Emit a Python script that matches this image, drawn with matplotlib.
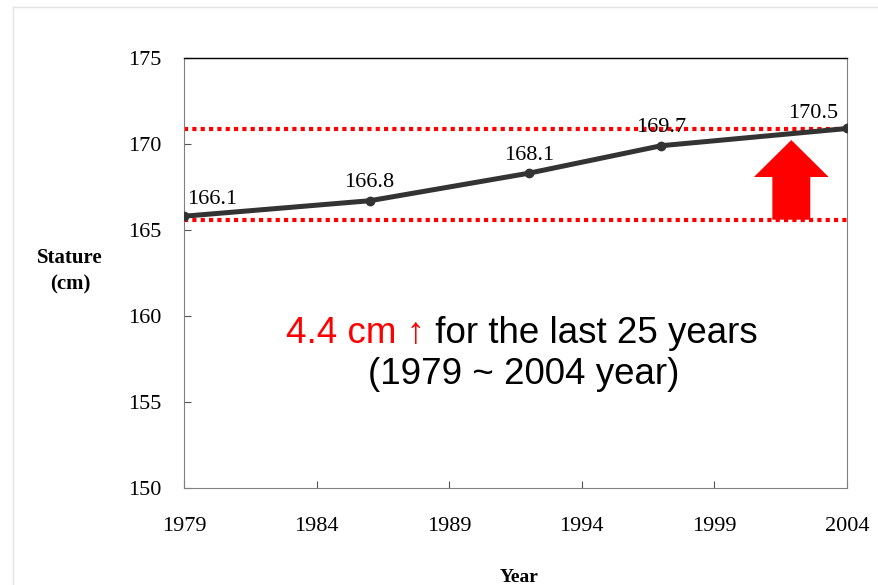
import numpy as np
import matplotlib.pyplot as plt
from matplotlib.patches import FancyArrow
from matplotlib.lines import Line2D

years = [1979, 1986, 1992, 1997, 2004]
stature = [165.8, 166.7, 168.3, 169.9, 170.9]
labels = ["166.1", "166.8", "168.1", "169.7", "170.5"]
xticks = [1979, 1984, 1989, 1994, 1999, 2004]
yticks = [150, 155, 160, 165, 170, 175]
ref_low = 165.6
ref_high = 170.85

serif = "Liberation Serif"
sans = ["Liberation Sans", "DejaVu Sans"]

fig = plt.figure(figsize=(8.79, 5.85), dpi=100)
ax = fig.add_axes([0.2093, 0.1658, 0.7543, 0.7351])

# faint slide border
fig.add_artist(Line2D([13/879, 13/879], [0, 1 - 7/585], color="#e4e4e4", lw=1))
fig.add_artist(Line2D([13/879, 1], [1 - 7/585, 1 - 7/585], color="#e4e4e4", lw=1))

ax.axhline(ref_high, color="red", lw=3, ls=(0, (1, 1)), zorder=1)
ax.axhline(ref_low, color="red", lw=3, ls=(0, (1, 1)), zorder=1)

ax.add_patch(FancyArrow(2001.9, ref_low, 0, 4.63, width=1.43, head_width=2.82,
                        head_length=2.15, length_includes_head=True,
                        color="red", lw=0, zorder=2))

ax.plot(years, stature, color="#333333", lw=3.6, marker="o", ms=6,
        solid_capstyle="round", zorder=3)

offsets = [(2, 5), (0, 6), (0, 6), (0, 6), (-24, 4)]
has = ["left", "center", "center", "center", "center"]
for x, y, s, off, ha in zip(years, stature, labels, offsets, has):
    ax.annotate(s, (x, y), xytext=off, textcoords="offset points", ha=ha,
                va="bottom", fontsize=16, family=serif, zorder=4)

ax.set_xlim(1979, 2004)
ax.set_ylim(150, 175)
ax.set_xticks(xticks)
ax.set_yticks(yticks)
ax.tick_params(direction="in", length=5, width=0.8, color="#555555")
ax.tick_params(axis="y", pad=16)
ax.tick_params(axis="x", pad=21)
for lab in ax.get_xticklabels() + ax.get_yticklabels():
    lab.set_fontfamily(serif)
    lab.set_fontsize(16)
for side in ["left", "bottom", "right"]:
    ax.spines[side].set_color("#808080")
ax.spines["top"].set_color("black")
ax.spines["top"].set_linewidth(1)

fig.text(70/879, 1 - 271/585, "Stature\n(cm)", ha="center", va="center",
         fontsize=15, fontweight="bold", family=serif, linespacing=1.45)
fig.text(519/879, 1 - 577/585, "Year", ha="center", va="center",
         fontsize=14, fontweight="bold", family=serif)

red = fig.text(286/879, 1 - 343/585, "4.4 cm \u2191", color="red", fontsize=26.5,
               family=sans, ha="left", va="baseline")
ax.annotate(" for the last 25 years", xy=(1, 0), xycoords=red, ha="left",
            va="bottom", fontsize=26.5, family=sans, color="black",
            annotation_clip=False)
fig.text(524/879, 1 - 384/585, "(1979 ~ 2004 year)", color="black", fontsize=26.5,
         family=sans, ha="center", va="baseline")

fig.savefig("out.png", dpi=100)
